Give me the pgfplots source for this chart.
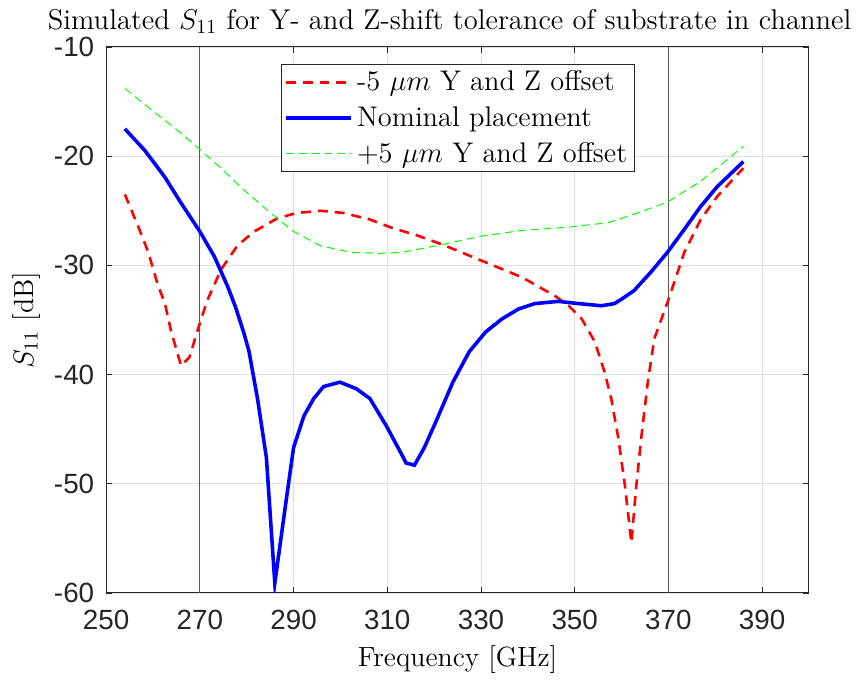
\documentclass[border=0pt]{standalone}
\usepackage{pgfplots}
\pgfplotsset{compat=1.18}
\usepackage{fontspec}
\newfontfamily\ticksf{Liberation Sans}

\definecolor{axgray}{rgb}{0.15,0.15,0.15}
\definecolor{gridgray}{rgb}{0.88,0.88,0.88}

\begin{document}
\begin{tikzpicture}
\begin{axis}[
    name=main,
    scale only axis,
    width=354pt, height=275pt,
    xmin=250, xmax=400, ymin=-60, ymax=-10,
    xtick={250,270,...,390},
    ytick={-60,-50,...,-10},
    yticklabels={-60,-50,-40,-30,-20,-10},
    tick label style={font=\fontsize{14}{16}\ticksf, text=axgray},
    /pgf/number format/assume math mode=true,
    xticklabel style={yshift=-5pt},
    yticklabel style={xshift=-2.5pt},
    tick align=inside, major tick length=3pt,
    tick style={axgray, line width=0.4pt},
    axis line style={axgray, line width=0.5pt},
    grid=major, major grid style={gridgray, line width=0.4pt},
    title={Simulated $S_{11}$ for Y- and Z-shift tolerance of substrate in channel},
    title style={font=\fontsize{14.4}{17}\selectfont, yshift=-3pt, xshift=-4pt},
    xlabel={Frequency [GHz]},
    ylabel={$S_{11}$ [dB]},
    label style={font=\fontsize{14}{17}\selectfont},
    xlabel style={yshift=-1pt},
    ylabel style={yshift=0pt},
    legend style={at={(0.5,0.968)}, anchor=north, draw=axgray, line width=0.5pt,
        font=\fontsize{14.3}{16}\selectfont, inner sep=1.5pt, row sep=3.5pt,
        nodes={inner ysep=1.5pt, inner xsep=2pt}},
    legend cell align=left,
    legend image code/.code={\draw[#1] (0pt,0pt) -- (33pt,0pt);},
]
% reference lines
\addplot[forget plot, gray!70!black, line width=0.5pt] coordinates {(270,-60) (270,-10)};
\addplot[forget plot, gray!70!black, line width=0.5pt] coordinates {(370,-60) (370,-10)};

\addplot[red, line width=1.3pt, dash pattern=on 5pt off 3.5pt] coordinates {
(254,-23.5) (256.8,-26.4) (259,-28.8) (261.1,-31.9) (262.5,-33.4) (263.9,-36.1)
(266.0,-39.2) (267.8,-38.4) (269.2,-36.4) (270.3,-34.9) (271.7,-33.1) (274.5,-30.4)
(278.0,-28.2) (281.6,-26.9) (286.5,-25.7) (290.7,-25.2) (295.7,-25.0) (300.6,-25.2)
(306.3,-25.8) (311.2,-26.6) (316,-27.2) (321.8,-28.1) (330.3,-29.6) (338.8,-31.1)
(345.8,-32.8) (348.7,-33.7) (351.5,-34.9) (354.3,-37.0) (356.4,-39.8) (357.8,-42.2)
(359.3,-45.8) (360.7,-50.1) (362.1,-55.4) (363.1,-50.4) (364.2,-45.8) (365.6,-40.7)
(367.0,-36.7) (369.8,-33.4) (373.4,-28.8) (376.9,-25.8) (380.4,-23.7) (386,-21.1)};
\addlegendentry{-5 $\mu m$ Y and Z offset}

\addplot[blue, line width=1.8pt] coordinates {
(254,-17.5) (258.3,-19.5) (262.5,-21.9) (266,-24.3) (270,-26.9) (273.1,-29.2)
(275.9,-31.9) (277.6,-33.8) (279.4,-36.2) (280.5,-37.9) (282.3,-42.2) (284.2,-47.6)
(286.0,-59.1) (288.3,-51.9) (290.0,-46.7) (292.2,-43.8) (294.3,-42.2) (296.4,-41.1)
(299.9,-40.7) (303.4,-41.3) (306.3,-42.2) (309.8,-44.7) (313.3,-47.5) (314.0,-48.1)
(315.8,-48.3) (317.9,-46.7) (320.4,-44.3) (324,-40.7) (327.5,-37.9) (331,-36.1)
(334.5,-34.9) (338,-34.0) (341.5,-33.5) (346.5,-33.3) (350.8,-33.5) (355.7,-33.7)
(358.5,-33.5) (360,-33.1) (362.7,-32.3) (366.3,-30.6) (369.8,-28.8) (373.4,-26.7)
(376.9,-24.6) (380.4,-22.8) (386,-20.5)};
\addlegendentry{Nominal placement}

\addplot[green, line width=0.5pt, dash pattern=on 4pt off 2.5pt] coordinates {
(254,-13.8) (260.4,-16.0) (266,-17.9) (270.3,-19.5) (274.5,-21.1) (279.4,-23.1)
(285.1,-25.2) (290,-26.9) (295.7,-28.2) (302.1,-28.8) (308.4,-28.9) (313.3,-28.8)
(321.8,-28.1) (330.3,-27.3) (338.8,-26.8) (348.7,-26.5) (357.1,-26.1) (362.8,-25.3)
(369.8,-24.2) (376.9,-22.3) (386,-19.1)};
\addlegendentry{+5 $\mu m$ Y and Z offset}
\end{axis}
% white margin around the figure, as in the original export
\path ([xshift=-3pt]main.outer south west) rectangle ([xshift=2.5pt,yshift=1.5pt]main.outer north east);
\end{tikzpicture}
\end{document}
